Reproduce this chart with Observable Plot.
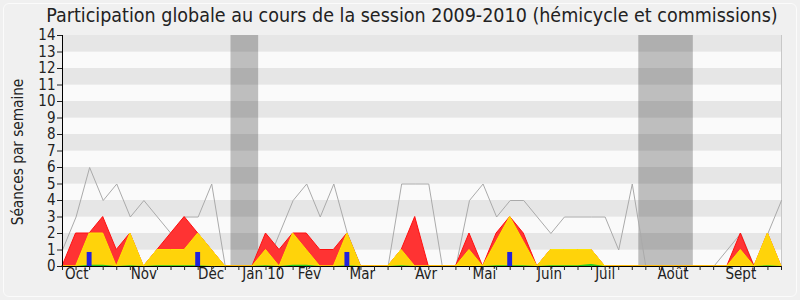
<!DOCTYPE html>
<html>
<head>
<meta charset="utf-8">
<script src="https://cdn.jsdelivr.net/npm/d3@7"></script>
<script src="https://cdn.jsdelivr.net/npm/@observablehq/plot@0.6"></script>
<style>
  html, body { margin: 0; padding: 0; background: #f0f0f0; }
  #wrap { position: relative; width: 800px; height: 300px; overflow: hidden; background: #f0f0f0;
          font-family: "DejaVu Sans Condensed", "DejaVu Sans", sans-serif; font-stretch: condensed; }
  #frame { position: absolute; left: 3px; top: 3px; width: 792px; height: 292px; border: 1px solid #fbfbfb; border-radius: 6px; }
  #title { position: absolute; left: 0; width: 824px; top: 4px; text-align: center; font-size: 19.5px; color: #222; white-space: nowrap; }
  #ylabel { position: absolute; left: 18px; top: 152px; transform: translate(-50%, -50%) rotate(-90deg); font-size: 15.2px; color: #222; white-space: nowrap; }
  #chart { position: absolute; left: 0; top: 0; }
</style>
</head>
<body>
<div id="wrap">
  <div id="frame"></div>
  <div id="chart"></div>
  <div id="title">Participation globale au cours de la session 2009-2010 (hémicycle et commissions)</div>
  <div id="ylabel">Séances par semaine</div>
</div>
<script>
// Weekly values (week index 0..53)
const seances      = [1,3,6,4,5,3,4,3,2,3,3,5,0,0,0,0,2,4,5,3,5,2,0,0,0,5,5,5,0,0,4,5,3,4,4,3,2,3,3,3,3,1,5,0,0,0,0,0,0,1,2,0,2,4];
const presences    = [0,2,2,3,1,2,0,1,2,3,2,1,0,0,0,2,1,2,2,1,1,2,0,0,0,1,3,0,0,0,2,0,2,3,2,0,1,1,1,1,0,0,0,0,0,0,0,0,0,0,2,0,2,0];
const commissions  = [0,0,2,2,0,2,0,1,1,1,2,1,0,0,0,1,0,2,1,0,0,2,0,0,0,1,0,0,0,0,1,0,1.5,3,1.5,0,1,1,1,1,0,0,0,0,0,0,0,0,0,0,1,0,2,0];
const interventions= [0,0,0.08,0.08,0,0.05,0,0.05,0.05,0.05,0.05,0,0,0,0,0.05,0,0.08,0.08,0,0,0.05,0,0,0,0.05,0,0,0,0,0,0,0.05,0.05,0.05,0,0.05,0.05,0.05,0.12,0,0,0,0,0,0,0,0,0,0,0,0,0.05,0];
const questions    = [0,0,0.85,0,0,0,0,0,0,0,0.85,0,0,0,0,0,0,0,0,0,0,0.85,0,0,0,0,0,0,0,0,0,0,0,0.85,0,0,0,0,0,0,0,0,0,0,0,0,0,0,0,0,0,0,0,0];

const monthLabels = ["Oct","Nov","Déc","Jan 10","Fév","Mar","Avr","Mai","Juin","Juil","Août","Sept"];
const monthPos    = [1.05, 6, 10.95, 14.8, 18.2, 22.1, 26.8, 31.1, 35.9, 40, 45, 50];

const vacStart = [12.42, 42.48];
const vacEnd   = [14.46, 46.5];

const yTicks = d3.range(0, 15);

const weeks = d3.range(seances.length);
const rows = weeks.map(i => ({
  week: i, seances: seances[i], presences: presences[i], commissions: commissions[i],
  interventions: interventions[i], questions: questions[i]
}));
const months = monthLabels.map((m, i) => ({label: m, pos: monthPos[i]}));
const vacations = vacStart.map((s, i) => ({start: s, end: vacEnd[i]}));
const stripesDark = yTicks.filter(t => t % 2 === 1 && t < 14);
const stripesLight = yTicks.filter(t => t % 2 === 0 && t < 14);
const xMax = weeks[weeks.length - 1];

const chart = Plot.plot({
  width: 800, height: 300,
  marginLeft: 62, marginRight: 19, marginTop: 35, marginBottom: 34,
  x: {domain: [0, xMax], axis: null},
  y: {domain: [0, 14], axis: null},
  style: {background: "transparent", fontFamily: '"DejaVu Sans Condensed", "DejaVu Sans", sans-serif', fontSize: "15px", color: "#222", overflow: "visible"},
  marks: [
    Plot.rect(stripesLight, {x1: 0, x2: xMax, y1: d => d, y2: d => d + 1, fill: "#fafafa"}),
    Plot.rect(stripesDark, {x1: 0, x2: xMax, y1: d => d, y2: d => d + 1, fill: "#e6e6e6"}),
    Plot.rect(vacations, {x1: "start", x2: "end", y1: 0, y2: 14, fill: "#000", fillOpacity: 0.24}),
    Plot.ruleX([xMax], {stroke: "#c8c8c8"}),
    Plot.line(rows, {x: "week", y: "seances", stroke: "#aaaaaa", strokeWidth: 1}),
    Plot.areaY(rows, {x: "week", y: "presences", fill: "#ff3333", stroke: "#ff1010", strokeWidth: 1}),
    Plot.areaY(rows, {x: "week", y: "commissions", fill: "#ffd30a", stroke: "#ffe400", strokeWidth: 1}),
    Plot.areaY(rows, {x: "week", y: "interventions", fill: "#22cc22"}),
    Plot.rectY(rows.filter(d => d.questions > 0), {x1: d => d.week - 0.18, x2: d => d.week + 0.18, y: "questions", fill: "#2222dd"}),
    Plot.ruleY([0], {stroke: "#000"}),
    Plot.ruleX([0], {stroke: "#000"}),
    Plot.axisY({ticks: yTicks, tickSize: 5, tickPadding: 2, tickFormat: d => String(d), fontSize: 15}),
    Plot.axisX({ticks: weeks, tickSize: 4, text: null}),
    Plot.text(months, {x: "pos", text: "label", frameAnchor: "bottom", dy: 12, fontSize: 15, fill: "#222"})
  ]
});
document.getElementById("chart").appendChild(chart);
</script>
</body>
</html>
